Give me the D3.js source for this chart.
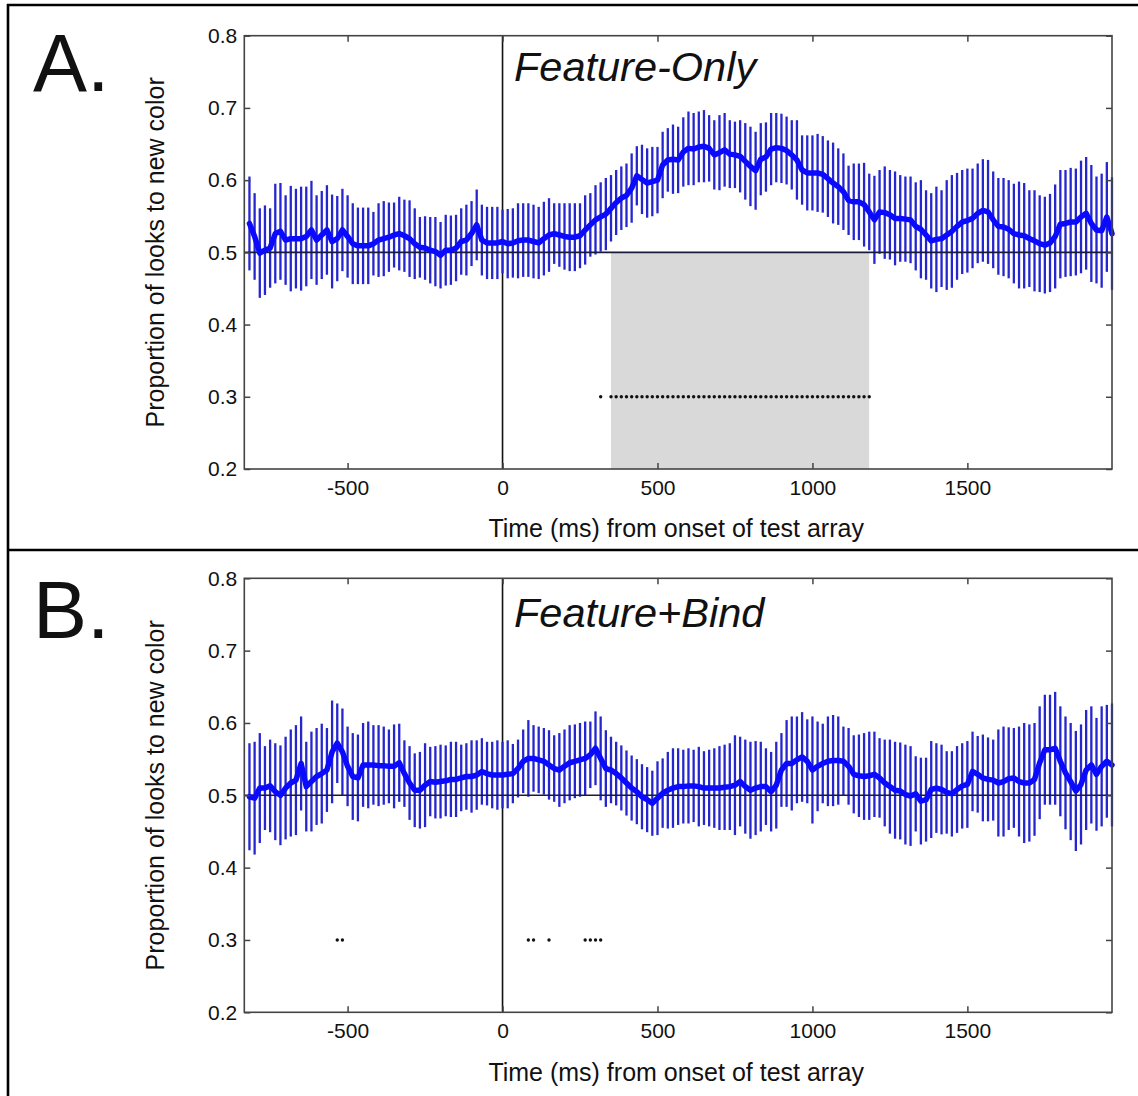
<!DOCTYPE html>
<html>
<head>
<meta charset="utf-8">
<script src="https://cdn.jsdelivr.net/npm/d3@7"></script>
<style>
  html, body { margin: 0; padding: 0; background: #fff; }
  svg { display: block; }
  text { font-family: "Liberation Sans", Arial, Helvetica, sans-serif; fill: #111; }
</style>
</head>
<body>
<svg id="chart" width="1138" height="1096"></svg>
<script>
// ---------------- DATA ----------------
// sample frames (1 frame = 1000/60 ms), from -49 to 118
const frameFirst = -49, frameLast = 118;
const xTickValues = [-500, 0, 500, 1000, 1500];
const xTickLabels = ["-500", "0", "500", "1000", "1500"];
const yTickValues = [0.2, 0.3, 0.4, 0.5, 0.6, 0.7, 0.8];
const yTickLabels = ["0.2", "0.3", "0.4", "0.5", "0.6", "0.7", "0.8"];
const panelLabels = ["A.", "B."];
const conditionNames = ["Feature-Only", "Feature+Bind"];
const xAxisTitle = "Time (ms) from onset of test array";
const yAxisTitle = "Proportion of looks to new color";

// Panel A: Feature-Only — mean proportion and CI half-width per frame
const meanA = [
  0.540, 0.522, 0.499, 0.503, 0.506, 0.526, 0.529, 0.517, 0.519, 0.519,
  0.519, 0.522, 0.531, 0.517, 0.524, 0.531, 0.515, 0.519, 0.531, 0.522,
  0.512, 0.509, 0.509, 0.509, 0.512, 0.517, 0.519, 0.521, 0.524, 0.526,
  0.523, 0.519, 0.512, 0.507, 0.506, 0.503, 0.501, 0.496, 0.503, 0.503,
  0.506, 0.515, 0.517, 0.526, 0.538, 0.517, 0.513, 0.513, 0.513,
  0.515, 0.512, 0.513, 0.516, 0.517, 0.517, 0.515, 0.513, 0.519, 0.524,
  0.526, 0.524, 0.522, 0.521, 0.521, 0.523, 0.531, 0.538, 0.545, 0.549,
  0.553, 0.561, 0.569, 0.575, 0.579, 0.589, 0.606, 0.601, 0.596, 0.598,
  0.600, 0.621, 0.628, 0.629, 0.628, 0.639, 0.644, 0.643, 0.646, 0.647,
  0.644, 0.635, 0.638, 0.642, 0.636, 0.635, 0.633, 0.626, 0.619, 0.613,
  0.629, 0.632, 0.643, 0.645, 0.644, 0.641, 0.635, 0.628, 0.614, 0.610,
  0.610, 0.610, 0.608, 0.602, 0.596, 0.591, 0.584, 0.572, 0.570, 0.570,
  0.566, 0.556, 0.545, 0.556, 0.555, 0.552, 0.547,
  0.547, 0.546, 0.545, 0.536, 0.532, 0.524, 0.516, 0.518, 0.519, 0.524,
  0.529, 0.536, 0.542, 0.544, 0.547, 0.554, 0.558, 0.556, 0.545, 0.536,
  0.535, 0.532, 0.526, 0.524, 0.523, 0.519, 0.516, 0.512, 0.510, 0.513,
  0.522, 0.539, 0.540, 0.542, 0.542, 0.549, 0.554, 0.540, 0.531, 0.530,
  0.549, 0.526
];
const halfA = [
  0.065, 0.060, 0.062, 0.062, 0.055, 0.069, 0.067, 0.062, 0.073, 0.069,
  0.072, 0.069, 0.068, 0.062, 0.061, 0.062, 0.065, 0.059, 0.057, 0.057,
  0.056, 0.053, 0.053, 0.053, 0.044, 0.051, 0.052, 0.048, 0.045, 0.051,
  0.050, 0.053, 0.049, 0.042, 0.044, 0.046, 0.048, 0.046, 0.049, 0.048,
  0.046, 0.046, 0.049, 0.045, 0.049, 0.049, 0.050, 0.050, 0.050,
  0.044, 0.048, 0.048, 0.052, 0.051, 0.051, 0.051, 0.050, 0.051, 0.051,
  0.042, 0.044, 0.046, 0.047, 0.047, 0.045, 0.048, 0.044, 0.048, 0.048,
  0.050, 0.046, 0.045, 0.044, 0.044, 0.048, 0.041, 0.048, 0.048, 0.048,
  0.046, 0.046, 0.044, 0.048, 0.046, 0.048, 0.051, 0.050, 0.049, 0.050,
  0.046, 0.048, 0.052, 0.051, 0.047, 0.046, 0.050, 0.053, 0.055, 0.054,
  0.050, 0.048, 0.050, 0.048, 0.048, 0.047, 0.048, 0.055, 0.048, 0.052,
  0.052, 0.054, 0.053, 0.053, 0.056, 0.053, 0.053, 0.048, 0.053, 0.053,
  0.058, 0.053, 0.061, 0.058, 0.064, 0.062, 0.065,
  0.060, 0.059, 0.060, 0.061, 0.068, 0.062, 0.066, 0.073, 0.067, 0.076,
  0.078, 0.074, 0.072, 0.072, 0.069, 0.069, 0.071, 0.072, 0.067, 0.067,
  0.068, 0.068, 0.069, 0.074, 0.073, 0.067, 0.070, 0.067, 0.067, 0.068,
  0.072, 0.075, 0.074, 0.075, 0.074, 0.078, 0.078, 0.081, 0.074, 0.079,
  0.076, 0.078
];
// Panel B: Feature+Bind
const meanB = [
  0.498, 0.496, 0.510, 0.510, 0.513, 0.505, 0.500, 0.510, 0.517, 0.521,
  0.544, 0.512, 0.519, 0.526, 0.530, 0.535, 0.560, 0.572, 0.560, 0.540,
  0.526, 0.524, 0.542, 0.542, 0.542, 0.541, 0.541, 0.540, 0.540, 0.545,
  0.530, 0.517, 0.507, 0.507, 0.514, 0.519, 0.518, 0.519, 0.520, 0.522,
  0.522, 0.524, 0.526, 0.526, 0.528, 0.533, 0.530, 0.528, 0.528,
  0.528, 0.529, 0.530, 0.537, 0.547, 0.551, 0.551, 0.549, 0.547, 0.542,
  0.537, 0.535, 0.540, 0.545, 0.547, 0.549, 0.551, 0.556, 0.565, 0.551,
  0.537, 0.535, 0.530, 0.524, 0.517, 0.510, 0.505, 0.498, 0.494, 0.489,
  0.496, 0.503, 0.507, 0.510, 0.512, 0.512, 0.513, 0.513, 0.512, 0.510,
  0.510, 0.510, 0.510, 0.511, 0.512, 0.514, 0.519, 0.512, 0.507, 0.510,
  0.512, 0.512, 0.505, 0.514, 0.535, 0.544, 0.544, 0.549, 0.553, 0.547,
  0.535, 0.540, 0.544, 0.547, 0.548, 0.548, 0.547, 0.540, 0.529, 0.527,
  0.526, 0.527, 0.529, 0.524, 0.517, 0.512, 0.507,
  0.506, 0.501, 0.499, 0.502, 0.492, 0.494, 0.508, 0.510, 0.508, 0.504,
  0.502, 0.508, 0.513, 0.515, 0.533, 0.529, 0.524, 0.522, 0.521, 0.517,
  0.519, 0.523, 0.524, 0.519, 0.517, 0.517, 0.522, 0.545, 0.563, 0.563,
  0.565, 0.547, 0.531, 0.519, 0.506, 0.515, 0.535, 0.542, 0.529, 0.540,
  0.547, 0.542
];
const halfB = [
  0.074, 0.078, 0.076, 0.058, 0.064, 0.067, 0.069, 0.071, 0.074, 0.076,
  0.065, 0.062, 0.069, 0.067, 0.069, 0.058, 0.071, 0.055, 0.060, 0.055,
  0.060, 0.060, 0.058, 0.060, 0.055, 0.056, 0.054, 0.051, 0.058, 0.054,
  0.046, 0.051, 0.051, 0.053, 0.058, 0.048, 0.050, 0.051, 0.049, 0.052,
  0.052, 0.046, 0.046, 0.050, 0.048, 0.046, 0.044, 0.046, 0.048,
  0.046, 0.047, 0.041, 0.040, 0.044, 0.053, 0.046, 0.046, 0.046, 0.048,
  0.046, 0.051, 0.051, 0.052, 0.051, 0.051, 0.051, 0.046, 0.051, 0.058,
  0.053, 0.046, 0.044, 0.045, 0.045, 0.045, 0.045, 0.045, 0.045, 0.045,
  0.051, 0.048, 0.053, 0.055, 0.053, 0.051, 0.052, 0.050, 0.055, 0.051,
  0.053, 0.055, 0.058, 0.059, 0.060, 0.069, 0.062, 0.065, 0.067, 0.065,
  0.062, 0.053, 0.055, 0.060, 0.051, 0.060, 0.065, 0.060, 0.062, 0.058,
  0.074, 0.062, 0.055, 0.062, 0.063, 0.061, 0.048, 0.053, 0.054, 0.057,
  0.060, 0.061, 0.059, 0.055, 0.060, 0.065, 0.067,
  0.067, 0.069, 0.069, 0.052, 0.060, 0.058, 0.067, 0.062, 0.062, 0.057,
  0.059, 0.060, 0.059, 0.060, 0.055, 0.053, 0.060, 0.058, 0.056, 0.074,
  0.076, 0.071, 0.069, 0.076, 0.083, 0.081, 0.078, 0.078, 0.076, 0.076,
  0.078, 0.076, 0.078, 0.081, 0.083, 0.083, 0.083, 0.081, 0.078, 0.083,
  0.078, 0.085
];
// frames marked as significant (dots at 0.3)
const sigFramesA = [19, 21, 22, 23, 24, 25, 26, 27, 28, 29, 30, 31, 32, 33, 34, 35, 36, 37, 38, 39, 40,
  41, 42, 43, 44, 45, 46, 47, 48, 49, 50, 51, 52, 53, 54, 55, 56, 57, 58, 59, 60,
  61, 62, 63, 64, 65, 66, 67, 68, 69, 70, 71];
const sigFramesB = [-32, -31, 5, 6, 9, 16, 17, 18, 19];
// shaded significant window in panel A (ms)
const shadeA = [350, 1183];
const chanceLevel = 0.5;
const sigLevel = 0.3;
const xDomain = [-833.3, 1966.7];
const yDomain = [0.2, 0.8];
const frameMs = 1000 / 60;

// ---------------- DRAW ----------------
const svg = d3.select("#chart");
const frames = d3.range(frameFirst, frameLast + 1);

// outer frame
const frameG = svg.append("g");
frameG.append("line").attr("x1", 7).attr("x2", 1138).attr("y1", 5).attr("y2", 5).attr("stroke", "#000").attr("stroke-width", 2.6);
frameG.append("line").attr("x1", 8).attr("x2", 8).attr("y1", 4).attr("y2", 1096).attr("stroke", "#000").attr("stroke-width", 2.6);
frameG.append("line").attr("x1", 7).attr("x2", 1138).attr("y1", 550).attr("y2", 550).attr("stroke", "#000").attr("stroke-width", 2.6);

const x = d3.scaleLinear().domain(xDomain).range([244.3, 1112]);

const panels = [
  { label: panelLabels[0], name: conditionNames[0], mean: meanA, half: halfA, sig: sigFramesA, shade: shadeA,
    top: 35.7, bottom: 469, labelBase: 90.5, nameBase: 81, titleBase: 537 },
  { label: panelLabels[1], name: conditionNames[1], mean: meanB, half: halfB, sig: sigFramesB, shade: null,
    top: 578.3, bottom: 1012.3, labelBase: 638, nameBase: 627, titleBase: 1081 }
];

panels.forEach(p => {
  const g = svg.append("g");
  const y = d3.scaleLinear().domain(yDomain).range([p.bottom, p.top]);
  const pts = frames.map((f, i) => ({ t: f * frameMs, m: p.mean[i], h: p.half[i] }));

  // shading
  if (p.shade) {
    g.append("rect")
      .attr("x", x(p.shade[0])).attr("width", x(p.shade[1]) - x(p.shade[0]))
      .attr("y", y(chanceLevel)).attr("height", y(yDomain[0]) - y(chanceLevel))
      .attr("fill", "#d9d9d9");
  }
  // zero line
  g.append("line").attr("x1", x(0)).attr("x2", x(0)).attr("y1", y(yDomain[0])).attr("y2", y(yDomain[1]))
    .attr("stroke", "#111").attr("stroke-width", 1.6);

  // error bars
  g.append("g").selectAll("line").data(pts).join("line")
    .attr("x1", d => x(d.t)).attr("x2", d => x(d.t))
    .attr("y1", d => y(d.m - d.h)).attr("y2", d => y(d.m + d.h))
    .attr("stroke", "#2626cf").attr("stroke-width", 2.3);

  // chance line
  g.append("line").attr("x1", x(xDomain[0])).attr("x2", x(xDomain[1])).attr("y1", y(chanceLevel)).attr("y2", y(chanceLevel))
    .attr("stroke", "#1a1a3a").attr("stroke-width", 1.6);

  // mean line
  g.append("path").datum(pts)
    .attr("d", d3.line().x(d => x(d.t)).y(d => y(d.m)))
    .attr("fill", "none").attr("stroke", "#0a0aff").attr("stroke-width", 5.5).attr("stroke-linejoin", "round").attr("stroke-linecap", "round");

  // significance dots
  g.append("g").selectAll("circle").data(p.sig).join("circle")
    .attr("cx", f => x(f * frameMs)).attr("cy", y(sigLevel)).attr("r", 1.7).attr("fill", "#111");

  // axes with inward ticks
  const axStyle = sel => {
    sel.select(".domain").remove();
    sel.selectAll(".tick line").attr("stroke", "#444").attr("stroke-width", 1.5);
    sel.selectAll(".tick text").style("font-size", "21px").attr("fill", "#1a1a1a")
      .style("font-family", "'Liberation Sans', Arial, sans-serif");
  };
  g.append("g").attr("transform", `translate(0,${p.bottom})`)
    .call(d3.axisBottom(x).tickValues(xTickValues).tickFormat((d, i) => xTickLabels[i]).tickSize(-6).tickPadding(11))
    .call(axStyle);
  g.append("g").attr("transform", `translate(0,${p.top})`)
    .call(d3.axisTop(x).tickValues(xTickValues).tickFormat("").tickSize(-6))
    .call(axStyle);
  g.append("g").attr("transform", `translate(${x(xDomain[0])},0)`)
    .call(d3.axisLeft(y).tickValues(yTickValues).tickFormat((d, i) => yTickLabels[i]).tickSize(-6).tickPadding(7))
    .call(axStyle);
  g.append("g").attr("transform", `translate(${x(xDomain[1])},0)`)
    .call(d3.axisRight(y).tickValues(yTickValues).tickFormat("").tickSize(-6))
    .call(axStyle);

  // box
  g.append("rect").attr("x", x(xDomain[0])).attr("y", p.top)
    .attr("width", x(xDomain[1]) - x(xDomain[0])).attr("height", p.bottom - p.top)
    .attr("fill", "none").attr("stroke", "#444").attr("stroke-width", 1.6);

  // titles
  g.append("text").attr("x", (x(xDomain[0]) + x(xDomain[1])) / 2 - 2).attr("y", p.titleBase)
    .attr("text-anchor", "middle").style("font-size", "25px").text(xAxisTitle);
  g.append("text").attr("transform", `translate(164,${(p.top + p.bottom) / 2}) rotate(-90)`)
    .attr("text-anchor", "middle").style("font-size", "25px").text(yAxisTitle);
  g.append("text").attr("x", 33).attr("y", p.labelBase).style("font-size", "81px").attr("fill", "#000").text(p.label);
  g.append("text").attr("x", 514).attr("y", p.nameBase).style("font-size", "41.5px").style("font-style", "italic")
    .attr("fill", "#000").text(p.name);
});
</script>
</body>
</html>
